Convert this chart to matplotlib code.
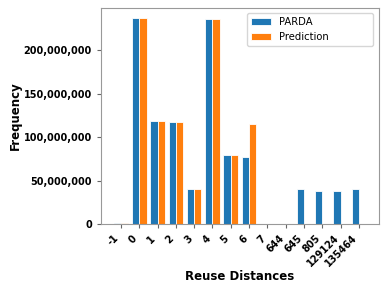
import matplotlib
matplotlib.use("Agg")
import matplotlib.pyplot as plt
import numpy as np

categories = ["-1", "0", "1", "2", "3", "4", "5", "6", "7", "644", "645", "805", "129124", "135464"]
parda = [1.0e6, 237e6, 119e6, 117.5e6, 40e6, 236.5e6, 79e6, 77e6, 0, 0, 40e6, 38e6, 38e6, 40e6]
prediction = [1.0e6, 237e6, 119e6, 117.5e6, 40e6, 236.5e6, 79e6, 115.5e6, 0, 0, 0, 0, 0, 0]
yticks = [0, 50e6, 100e6, 150e6, 200e6]

fig = plt.figure(figsize=(3.88, 2.91), dpi=100)
ax = fig.add_axes([0.26, 0.23, 0.717, 0.7425])

x = np.arange(len(categories))
w = 0.4
ax.bar(x - w / 2, parda, w, color="#1f77b4", edgecolor="white", linewidth=0.6, label="PARDA")
ax.bar(x + w / 2, prediction, w, color="#ff7f0e", edgecolor="white", linewidth=0.6, label="Prediction")

ax.set_xticks(x)
ax.set_xticklabels(categories, rotation=45, fontsize=7, fontweight="bold", ha="right")
ax.set_yticks(yticks)
ax.set_yticklabels([f"{int(v):,}" for v in yticks], fontweight="bold", fontsize=7)
ax.set_xlabel("Reuse Distances", fontsize=8.5, fontweight="bold", labelpad=1)
ax.set_ylabel("Frequency", fontsize=8.5, fontweight="bold", labelpad=1)

for s in ax.spines.values():
    s.set_color("#999999")
ax.tick_params(colors="#666666", labelcolor="black", length=3)

ax.legend(loc="upper right", fontsize=7.2, frameon=True,
          bbox_to_anchor=(0.525, 0.5, 0.453, 0.477), mode="expand",
          borderaxespad=0)
fig.savefig("out.png", dpi=100)
